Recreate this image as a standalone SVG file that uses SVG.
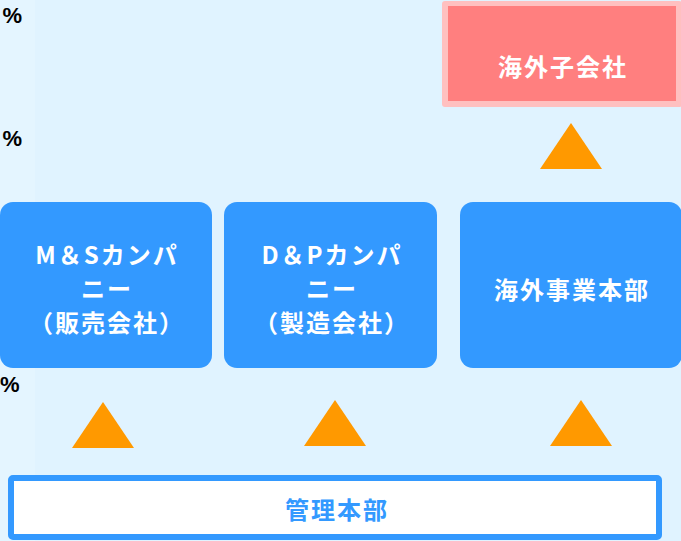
<svg xmlns="http://www.w3.org/2000/svg" width="681" height="541" viewBox="0 0 681 541">
<style>
.bg{fill:#E0F3FF}
.box{fill:#3399FF}
.tri{fill:#FF9900}
.wt{fill:#FFFFFF;font-family:"Noto Sans CJK JP","Noto Sans",sans-serif;font-weight:bold;font-size:24px;text-anchor:middle;dominant-baseline:central;letter-spacing:2px}
.pc{fill:#000000;font-family:"Liberation Sans",sans-serif;font-weight:bold;font-size:22px}
</style>
<rect class="bg" x="0" y="0" width="681" height="541"/>
<rect x="0" y="0" width="35" height="541" fill="#E4F5FF"/>
<g id="axis-labels">
<text class="pc" x="22" y="23" text-anchor="end">%</text>
<text class="pc" x="22" y="146" text-anchor="end">%</text>
<text class="pc" x="0" y="392" text-anchor="start" font-size="18">%</text>
</g>
<g id="overseas-subsidiary">
<rect x="442" y="1" width="240" height="106" rx="3" fill="#FFC0C0"/>
<rect x="448" y="6" width="228" height="95" fill="#FF7F7F"/>
<text class="wt" x="563" y="65">海外子会社</text>
</g>
<g id="ms-company">
<rect class="box" x="0" y="202" width="212" height="166" rx="13"/>
<text class="wt" x="107" y="253">M＆Sカンパ</text>
<text class="wt" x="107" y="287">ニー</text>
<text class="wt" x="107" y="321">（販売会社）</text>
</g>
<g id="dp-company">
<rect class="box" x="224" y="202" width="213" height="166" rx="13"/>
<text class="wt" x="332" y="253">D＆Pカンパ</text>
<text class="wt" x="332" y="287">ニー</text>
<text class="wt" x="332" y="321">（製造会社）</text>
</g>
<g id="overseas-division">
<rect class="box" x="460" y="202" width="222" height="166" rx="13"/>
<text class="wt" x="572" y="288">海外事業本部</text>
</g>
<g id="admin-division">
<rect x="11" y="478" width="648" height="59" rx="2" fill="#FFFFFF" stroke="#3399FF" stroke-width="6"/>
<text class="wt" x="337" y="508" style="fill:#3399FF">管理本部</text>
</g>
<g id="connectors">
<polygon class="tri" points="571,123 540,169 602,169"/>
<polygon class="tri" points="103,402 72,448 134,448"/>
<polygon class="tri" points="335,400 304,446 366,446"/>
<polygon class="tri" points="581,400 550,446 612,446"/>
</g>
</svg>
